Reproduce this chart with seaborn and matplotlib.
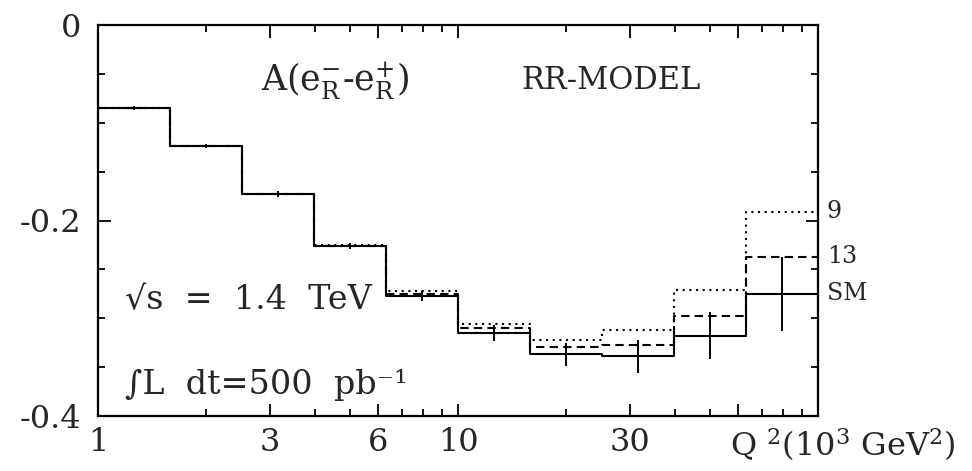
import numpy as np
import pandas as pd
import matplotlib
matplotlib.use("Agg")
import matplotlib.pyplot as plt
import seaborn as sns
from matplotlib.ticker import FixedLocator, FixedFormatter, NullFormatter

# Q^2 bin edges (10^3 GeV^2), five bins per decade
bin_edges = [1.0, 1.585, 2.512, 3.981, 6.310, 10.0, 15.85, 25.12, 39.81, 63.10, 100.0]
bin_centers = [1.259, 1.995, 3.162, 5.012, 7.943, 12.59, 19.95, 31.62, 50.12, 79.43]

# asymmetry A(e_R^- - e_R^+) per bin
asym_sm = [-0.085, -0.124, -0.173, -0.226, -0.277, -0.315, -0.337, -0.339, -0.318, -0.275]
asym_13 = [-0.085, -0.124, -0.173, -0.226, -0.275, -0.310, -0.329, -0.327, -0.298, -0.237]
asym_9 = [-0.085, -0.124, -0.173, -0.225, -0.272, -0.306, -0.322, -0.312, -0.271, -0.191]
err_sm = [0.002, 0.002, 0.003, 0.003, 0.005, 0.008, 0.012, 0.017, 0.024, 0.038]

series_names = ["9", "13", "SM"]

x_major = [1, 3, 6, 10, 30, 60, 100]
x_major_labels = ["1", "3", "6", "10", "30", "", ""]
x_minor = [2, 4, 5, 7, 8, 9, 20, 40, 50, 70, 80, 90]
y_major = [0.0, -0.2, -0.4]
y_major_labels = ["0", "-0.2", "-0.4"]
y_minor = [-0.05, -0.1, -0.15, -0.25, -0.3, -0.35]

sns.set_theme(style="ticks")
plt.rcParams["font.family"] = ["DejaVu Serif"]
plt.rcParams["mathtext.fontset"] = "dejavuserif"

fig = plt.figure(figsize=(9.72, 4.71), dpi=100)
ax = fig.add_axes([98 / 972, 1 - 416 / 471, 720 / 972, 391 / 471])

rows = []
for name, vals in zip(series_names, [asym_9, asym_13, asym_sm]):
    for e, v in zip(bin_edges, vals + [vals[-1]]):
        rows.append({"Q2": e, "A": v, "model": name})
df = pd.DataFrame(rows)

styles = {"9": (0, (1, 2.2)), "13": (0, (4, 2.5)), "SM": "-"}
for name in series_names:
    sub = df[df["model"] == name]
    sns.lineplot(data=sub, x="Q2", y="A", ax=ax, color="black",
                 linewidth=1.5, drawstyle="steps-post", estimator=None,
                 sort=False, linestyle=styles[name], legend=False)

ax.errorbar(bin_centers, asym_sm, yerr=err_sm, fmt="none", ecolor="black",
            elinewidth=1.4, capsize=0)
ax.errorbar(bin_centers, asym_sm, xerr=[[c * 0.02 for c in bin_centers], [c * 0.02 for c in bin_centers]],
            fmt="none", ecolor="black", elinewidth=1.4, capsize=0)

ax.set_xscale("log")
ax.set_xlim(1, 100)
ax.set_ylim(-0.4, 0)
ax.set_xlabel("")
ax.set_ylabel("")

ax.xaxis.set_major_locator(FixedLocator(x_major))
ax.xaxis.set_major_formatter(FixedFormatter(x_major_labels))
ax.xaxis.set_minor_locator(FixedLocator(x_minor))
ax.xaxis.set_minor_formatter(NullFormatter())
ax.yaxis.set_major_locator(FixedLocator(y_major))
ax.yaxis.set_major_formatter(FixedFormatter(y_major_labels))
ax.yaxis.set_minor_locator(FixedLocator(y_minor))

ax.tick_params(which="both", direction="in", top=True, right=True, width=1.3, color="black")
ax.tick_params(which="major", length=9)
ax.tick_params(which="minor", length=5)
ax.tick_params(axis="x", which="major", labelsize=23, pad=8)
ax.tick_params(axis="y", which="major", labelsize=23, pad=12)
for s in ax.spines.values():
    s.set_visible(True)
    s.set_linewidth(1.6)
    s.set_color("black")

ax.text(0.329, 0.859, r"A(e$_{\mathrm{R}}^{-}$-e$_{\mathrm{R}}^{+}$)", transform=ax.transAxes,
        ha="center", va="center", fontsize=25)
ax.text(0.7125, 0.859, "RR-MODEL", transform=ax.transAxes,
        ha="center", va="center", fontsize=22)
ax.text(0.0375, 0.297, "\u221as  =  1.4  TeV", transform=ax.transAxes,
        ha="left", va="center", fontsize=24)
ax.text(0.0375, 0.079, "\u222bL  dt=500  pb\u207b\u00b9", transform=ax.transAxes,
        ha="left", va="center", fontsize=24)

# series labels at the end of each curve
trans = ax.get_yaxis_transform()
for name, vals in zip(series_names, [asym_9, asym_13, asym_sm]):
    ax.text(1.012, vals[-1], name, transform=trans, ha="left", va="center", fontsize=17)

ax.text(0.878, -0.074, "Q $^2$(10$^3$ GeV$^2$)", transform=ax.transAxes,
        ha="left", va="center", fontsize=23)

fig.savefig("out.png", dpi=100)
